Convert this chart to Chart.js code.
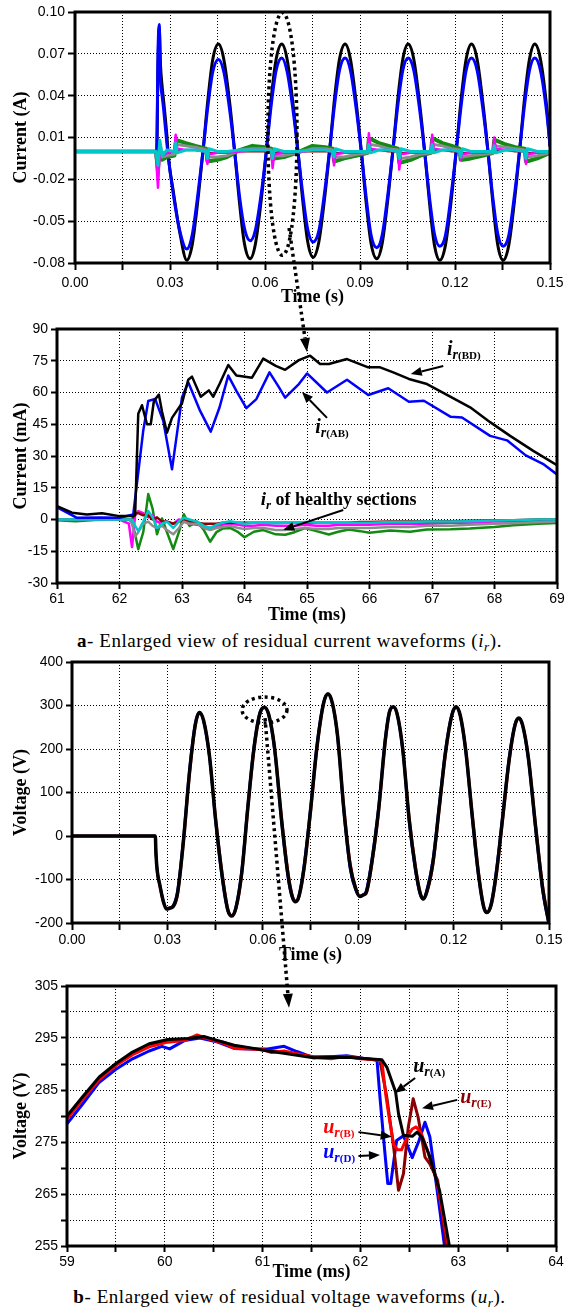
<!DOCTYPE html>
<html>
<head>
<meta charset="utf-8">
<script src="https://cdn.jsdelivr.net/npm/chart.js@4.4.1/dist/chart.umd.min.js"></script>
<style>
html,body{margin:0;padding:0;background:#fff;width:579px;height:1313px;overflow:hidden;position:relative;}
canvas{position:absolute;left:0;}
.cap{position:absolute;left:0;width:579px;text-align:center;font-family:'Liberation Serif','Times New Roman',serif;font-size:19px;line-height:20px;letter-spacing:0.55px;color:#000;white-space:nowrap;}
.cap sub{font-size:70%;vertical-align:-0.3em;line-height:0;}
</style>
</head>
<body>
<canvas id="c1" width="579" height="308" style="top:0px"></canvas>
<canvas id="c2" width="579" height="318" style="top:308px"></canvas>
<div class="cap" style="top:631px"><b>a</b>- Enlarged view of residual current waveforms (<i>i</i><sub><i>r</i></sub>).</div>
<canvas id="c3" width="579" height="318" style="top:648px"></canvas>
<canvas id="c4" width="579" height="317" style="top:966px"></canvas>
<div class="cap" style="top:1287px"><b>b</b>- Enlarged view of residual voltage waveforms (<i>u</i><sub><i>r</i></sub>).</div>
<canvas id="ov" width="579" height="1313" style="top:0px;pointer-events:none"></canvas>
<script>
// ---------------- Panel 1 : residual currents (s, A) ----------------
const t1 = [0, 0.0258, 0.0262, 0.0266, 0.0270, 0.0275, 0.0280, 0.0290, 0.0295, 0.0310, 0.0330, 0.0353,
  0.0370, 0.0390, 0.0405, 0.0420, 0.0435, 0.0453, 0.0470, 0.0490, 0.0505, 0.0520, 0.0535, 0.0553,
  0.0570, 0.0590, 0.0605, 0.0620, 0.0635, 0.0653, 0.0670, 0.0690, 0.0705, 0.0720, 0.0735, 0.0752,
  0.0770, 0.0790, 0.0805, 0.0820, 0.0835, 0.0853, 0.0870, 0.0890, 0.0905, 0.0920, 0.0935, 0.0953,
  0.0970, 0.0990, 0.1005, 0.1020, 0.1035, 0.1052, 0.1070, 0.1090, 0.1105, 0.1120, 0.1135, 0.1152,
  0.1170, 0.1190, 0.1205, 0.1220, 0.1235, 0.1252, 0.1270, 0.1290, 0.1305, 0.1320, 0.1335, 0.1352,
  0.1370, 0.1390, 0.1405, 0.1420, 0.1435, 0.1452, 0.1470, 0.1490, 0.1500];
const iBD1 = [0, 0, 0.060, 0.088, 0.062, 0.047, 0.036, 0.012, -0.004, -0.028, -0.057, -0.078,
  -0.067, -0.031, 0.002, 0.038, 0.066, 0.077, 0.066, 0.032, -0.002, -0.038, -0.066, -0.077,
  -0.066, -0.031, 0.002, 0.039, 0.066, 0.077, 0.066, 0.031, -0.002, -0.037, -0.065, -0.076,
  -0.065, -0.030, 0.003, 0.039, 0.066, 0.077, 0.066, 0.031, -0.002, -0.038, -0.066, -0.077,
  -0.066, -0.030, 0.003, 0.039, 0.066, 0.077, 0.066, 0.031, -0.002, -0.038, -0.067, -0.078,
  -0.067, -0.031, 0.003, 0.039, 0.066, 0.077, 0.066, 0.031, -0.002, -0.038, -0.067, -0.078,
  -0.067, -0.031, 0.003, 0.039, 0.066, 0.077, 0.066, 0.031, 0.004];
const iAB1 = [0, 0, 0.070, 0.091, 0.052, 0.040, 0.030, 0.006, -0.005, -0.030, -0.056, -0.070,
  -0.060, -0.027, 0.002, 0.033, 0.057, 0.066, 0.057, 0.027, -0.002, -0.033, -0.055, -0.064,
  -0.056, -0.027, 0.002, 0.034, 0.058, 0.067, 0.057, 0.027, -0.002, -0.032, -0.056, -0.065,
  -0.057, -0.026, 0.003, 0.034, 0.058, 0.067, 0.058, 0.027, -0.002, -0.034, -0.060, -0.069,
  -0.060, -0.027, 0.003, 0.034, 0.058, 0.067, 0.058, 0.027, -0.002, -0.034, -0.059, -0.068,
  -0.060, -0.027, 0.003, 0.034, 0.058, 0.067, 0.058, 0.027, -0.002, -0.034, -0.059, -0.068,
  -0.060, -0.027, 0.003, 0.034, 0.058, 0.067, 0.058, 0.027, 0.004];
const t1h = [0, 0.0255, 0.0262, 0.0268, 0.0275, 0.0290,
  0.0314, 0.0318, 0.0323, 0.0350, 0.0380,
  0.0414, 0.0418, 0.0423, 0.0450, 0.0480,
  0.0520, 0.0560, 0.0600,
  0.0620, 0.0624, 0.0629, 0.0660, 0.0700,
  0.0750, 0.0790,
  0.0814, 0.0818, 0.0823, 0.0850, 0.0890,
  0.0924, 0.0928, 0.0933, 0.0960, 0.0990,
  0.1020, 0.1024, 0.1029, 0.1060, 0.1090,
  0.1124, 0.1128, 0.1133, 0.1160, 0.1190,
  0.1214, 0.1218, 0.1223, 0.1250, 0.1290,
  0.1320, 0.1324, 0.1329, 0.1360, 0.1390,
  0.1420, 0.1424, 0.1429, 0.1460, 0.1500];
const iGreen1 = [0, 0, -0.012, 0.004, -0.006, -0.004,
  -0.003, 0.006, 0.008, 0.006, 0.004,
  0.002, -0.007, -0.007, -0.006, -0.004,
  0.001, 0.004, 0.003,
  0.002, -0.006, -0.005, -0.004, -0.001,
  0.004, 0.003,
  0.002, -0.007, -0.007, -0.005, -0.003,
  -0.001, 0.009, 0.009, 0.006, 0.004,
  0.002, -0.008, -0.008, -0.006, -0.003,
  -0.001, 0.009, 0.009, 0.006, 0.004,
  0.002, -0.006, -0.006, -0.005, -0.003,
  -0.001, 0.008, 0.008, 0.005, 0.003,
  0.002, -0.007, -0.007, -0.005, -0.001];
const iGray1 = [0, 0, -0.018, 0.003, -0.004, -0.003,
  -0.002, 0.005, 0.005, 0.004, 0.003,
  0.001, -0.004, -0.004, -0.004, -0.003,
  0.001, 0.002, 0.002,
  0.001, -0.004, -0.003, -0.003, -0.001,
  0.002, 0.002,
  0.001, -0.004, -0.004, -0.004, -0.002,
  -0.001, 0.006, 0.005, 0.004, 0.002,
  0.001, -0.005, -0.005, -0.004, -0.002,
  -0.001, 0.006, 0.005, 0.004, 0.002,
  0.001, -0.004, -0.004, -0.003, -0.002,
  -0.001, 0.005, 0.004, 0.003, 0.002,
  0.001, -0.004, -0.004, -0.003, -0.001];
const iMagenta1 = [0, 0, -0.026, 0.002, -0.003, -0.001,
  0, 0.012, 0.002, 0.001, 0.001,
  0, -0.009, -0.002, -0.001, -0.001,
  0, 0.001, 0.001,
  0, -0.012, -0.002, -0.001, -0.001,
  0.001, 0.001,
  0, -0.010, -0.002, -0.001, -0.001,
  0, 0.013, 0.002, 0.001, 0.001,
  0, -0.013, -0.002, -0.001, -0.001,
  0, 0.012, 0.002, 0.001, 0.001,
  0, -0.006, -0.002, -0.001, -0.001,
  0, 0.010, 0.002, 0.001, 0.001,
  0, -0.009, -0.002, -0.001, 0];
const iDarkRed1 = [0, 0, -0.003, 0.001, -0.001, 0,
  0, 0.003, 0.001, 0.001, 0.001,
  0, -0.003, -0.001, -0.001, -0.001,
  0, 0, 0,
  0, -0.003, -0.001, 0, 0,
  0, 0,
  0, -0.002, -0.001, -0.001, 0,
  0, 0.003, 0.001, 0.001, 0,
  0, -0.003, -0.001, -0.001, 0,
  0, 0.003, 0.001, 0.001, 0,
  0, -0.002, -0.001, -0.001, 0,
  0, 0.002, 0.001, 0.001, 0,
  0, -0.002, -0.001, -0.001, 0];
const iCyan1 = [0, 0, -0.010, 0.008, -0.003, 0.001,
  0, 0.006, -0.001, 0.001, 0.001,
  0, -0.005, 0.002, 0, 0,
  0.001, 0.001, 0.001,
  0, -0.005, 0.002, 0, 0,
  0.001, 0.001,
  0, -0.004, 0.002, 0, 0,
  0, 0.005, -0.001, 0.001, 0.001,
  0, -0.005, 0.002, 0, 0,
  0, 0.005, -0.001, 0.001, 0.001,
  0, -0.004, 0.002, 0, 0,
  0, 0.004, -0.001, 0.001, 0.001,
  0, -0.005, 0.002, 0, 0];

// ---------------- Panel 2 : enlarged residual currents (ms, mA) ----------------
const tBD2 = [61, 61.24, 61.48, 61.72, 62.0, 62.2, 62.25, 62.3, 62.36, 62.44, 62.5, 62.55, 62.63, 62.68, 62.76, 62.84,
  63.0, 63.1, 63.16, 63.3, 63.43, 63.5, 63.6, 63.74, 63.87, 64.12, 64.3, 64.5, 64.65, 64.87, 65.05, 65.21, 65.35,
  65.64, 65.98, 66.17, 66.38, 66.63, 66.92, 67.24, 67.61, 67.93, 68.25, 68.62, 69];
const iBD2 = [6.3, 3.2, 2.4, 3.0, 1.6, 1.6, 2.0, 50, 54, 45, 45, 56, 59, 51, 41, 48,
  55, 66, 67.5, 58, 61, 58, 64, 73, 68, 67, 76, 72.6, 70.7, 75.3, 77.4, 73.5, 73.5,
  75.8, 71.9, 71.9, 69.5, 66.4, 64, 58.9, 53, 46, 39.5, 32.4, 25.7];
const tAB2 = [61, 61.32, 61.69, 62.0, 62.22, 62.38, 62.46, 62.57, 62.7, 62.84, 63.0, 63.1, 63.29, 63.46, 63.6,
  63.74, 63.87, 64.03, 64.19, 64.4, 64.54, 64.65, 64.87, 65.0, 65.32, 65.64, 65.98, 66.3, 66.63, 66.87,
  67.3, 67.48, 67.93, 68.2, 68.5, 68.79, 69];
const iAB2 = [5.8, 0.8, 1.0, 0.8, 2.4, 42, 56, 57, 46.6, 23.7, 57.7, 64.8, 51.3, 41.5, 52.9,
  68, 60.8, 52.6, 56.9, 69.5, 63, 57.6, 64, 69, 60, 66, 58.8, 62, 55.6, 56.1,
  48.5, 48.2, 39.5, 37.4, 30.3, 26, 21.3];
const t2h = [61, 61.3, 61.6, 62.0, 62.15, 62.2, 62.25, 62.3, 62.38, 62.46, 62.53, 62.6, 62.68, 62.76, 62.86,
  62.95, 63.03, 63.12, 63.24, 63.35, 63.45, 63.55, 63.65, 63.77, 63.9, 64.0, 64.15, 64.3, 64.5, 64.65,
  64.8, 64.97, 65.15, 65.35, 65.5, 65.67, 65.85, 66.0, 66.33, 66.65, 66.92, 67.3, 67.6, 68.0, 68.3, 68.7, 69];
const iGreen2 = [-0.3, -0.8, -0.2, 0, 0, -1, -7, -14, -6, 12, 5, -7, 0.5, -6, -14,
  -6, 2.5, -3, -1, -5, -10.5, -6, -4.3, -4, -6, -8.4, -5.8, -5, -7, -7.2,
  -6, -4, -5.5, -7.1, -5.8, -4.7, -5.5, -6.3, -5.2, -5.8, -4.7, -4.6, -4.3, -3.5, -2.7, -2, -1.6];
const iMagenta2 = [0, 0, 0, 0, -2, -13, 2, 4, 3, 1, 2, -1, -2, -1, -2,
  0, -1, -2, -2.5, -3, -4, -3, -2.5, -2, -2.5, -3, -3, -2.5, -3, -3,
  -3, -2.5, -3, -3, -2.5, -2.5, -2.5, -2.5, -2, -2, -2, -1.5, -1.5, -1, -1, -0.5, -0.5];
const iGray2 = [0, 0, 0, 0, 0, -2, -8, -6, -2, -1, -3, -4, -3, -5, -7,
  -4, -1, -2, -2, -4, -5, -4, -3.5, -3, -4, -4.5, -4, -4, -5, -5,
  -4.5, -4, -4.5, -4.5, -4, -4, -4, -4, -3.5, -3.5, -3, -3, -2.5, -2, -1.8, -1.3, -1];
const iDarkRed2 = [0, 0, 0, 0, 0, 0, 3, 3, 2, 2, 0, 1, -1, -1, -2,
  -1, 0, -1, -1.5, -2, -2, -2, -1.5, -1.5, -1.5, -1.5, -1.5, -1.5, -1.5, -1.5,
  -1.5, -1.5, -1.5, -1.5, -1.5, -1.5, -1.2, -1.2, -1, -1, -1, -0.8, -0.6, -0.4, -0.3, 0, 0];
const iCyan2 = [0, 0, 0, 0, 0, 0, -3, -5.5, -1, 4, 1, -4, -2, -1, -4,
  -1, 0.8, 0, -1, -3, -4, -2.5, -1.5, -0.8, -1.5, -2, -1.5, -1.5, -1.8, -1.5,
  -1.5, -1.2, -1.5, -1.5, -1.5, -1.5, -1.5, -1.5, -1.2, -1.2, -1, -1, -0.8, -0.5, -0.3, 0, 0];

// ---------------- Panel 3 : residual voltages (s, V) ----------------
const t3 = [0, 0.0262, 0.0264, 0.0268, 0.0276, 0.0287, 0.0297, 0.0307, 0.0318, 0.0332,
  0.0350, 0.0370, 0.0388, 0.0401, 0.0414, 0.0432, 0.0452, 0.0472, 0.0490, 0.0503,
  0.0516, 0.0534, 0.0553, 0.0572, 0.0591, 0.0605, 0.0619, 0.0637, 0.0660, 0.0680,
  0.0693, 0.0703, 0.0714, 0.0730, 0.0750, 0.0770, 0.0791, 0.0805, 0.0819, 0.0835,
  0.0855, 0.0875, 0.0893, 0.0905, 0.0915, 0.0925, 0.0945, 0.0965, 0.0985, 0.0998,
  0.1010, 0.1022, 0.1040, 0.1060, 0.1080, 0.1095, 0.1105, 0.1115, 0.1135, 0.1155,
  0.1175, 0.1195, 0.1208, 0.1221, 0.1238, 0.1258, 0.1278, 0.1295, 0.1305, 0.1318,
  0.1335, 0.1355, 0.1375, 0.1393, 0.1405, 0.1417, 0.1435, 0.1458, 0.1480, 0.1500];
const uA3 = [0, 0, -40, -80, -112, -150, -168, -166, -162, -131,
  -15, 150, 257, 284, 265, 186, 35, -90, -170, -184,
  -164, -83, 66, 200, 282, 296, 278, 202, 30, -93,
  -140, -151, -138, -72, 58, 203, 305, 327, 305, 231,
  60, -70, -123, -139, -136, -130, -50, 66, 219, 284,
  297, 282, 200, 40, -74, -132, -145, -130, -61, 67,
  195, 279, 297, 277, 198, 51, -86, -164, -176, -158,
  -82, 47, 177, 255, 271, 255, 180, 20, -120, -202];
const uB3 = [0, 0, -38, -82, -115, -152, -166, -165, -163, -136,
  -22, 142, 252, 283, 266, 190, 42, -82, -166, -183,
  -167, -90, 58, 193, 279, 295, 279, 207, 38, -85,
  -136, -150, -140, -78, 50, 196, 301, 326, 306, 236,
  68, -62, -120, -138, -136, -133, -57, 58, 212, 281,
  296, 283, 205, 48, -67, -129, -144, -133, -68, 59,
  188, 276, 296, 278, 203, 59, -79, -161, -175, -161,
  -89, 39, 170, 251, 270, 256, 185, 28, -112, -198];
const uD3 = [0, 0, -42, -78, -110, -148, -167, -165, -160, -124,
  -6, 158, 262, 285, 263, 181, 28, -98, -173, -184,
  -160, -76, 74, 207, 285, 296, 276, 196, 22, -100,
  -143, -151, -135, -64, 66, 210, 308, 326, 303, 226,
  52, -78, -126, -139, -135, -126, -42, 74, 226, 287,
  296, 280, 195, 32, -81, -135, -145, -126, -53, 75,
  202, 282, 297, 275, 193, 43, -93, -166, -176, -154,
  -74, 55, 184, 258, 270, 253, 175, 12, -128, -206];

// ---------------- Panel 4 : enlarged residual voltages (ms, V) ----------------
const tA4 = [59, 59.16, 59.33, 59.5, 59.67, 59.84, 60.03, 60.24, 60.4, 60.54, 60.71, 60.88, 61.05, 61.2,
  61.52, 61.86, 62.22, 62.27, 62.36, 62.39, 62.44, 62.53, 62.58, 62.63, 62.7, 62.81, 62.91, 62.95];
const uA4 = [280.0, 283.7, 287.5, 290.1, 292.3, 293.9, 294.7, 294.9, 295.3, 294.5, 293.6, 293.1, 292.5, 292.1,
  291.2, 291.3, 290.8, 289.4, 284.6, 280.4, 276.3, 276.1, 276.9, 275.9, 272.7, 265.6, 255, 252];
const tB4 = [59, 59.16, 59.33, 59.5, 59.67, 59.84, 60.03, 60.2, 60.33, 60.45, 60.6, 60.71, 60.88, 61.0, 61.09,
  61.22, 61.52, 61.7, 61.86, 62.0, 62.17, 62.22, 62.26, 62.3, 62.34, 62.38, 62.42, 62.48, 62.53, 62.57,
  62.62, 62.68, 62.78, 62.9, 62.95];
const uB4 = [279.4, 283.2, 287.0, 289.7, 291.8, 293.3, 294.2, 294.5, 295.6, 294.8, 294.0, 293.0, 292.9, 292.8, 292.2,
  292.5, 291.3, 291.0, 291.5, 291.0, 290.8, 290.5, 284, 279, 274.5, 273.5, 273.5, 276, 277.5, 277.9,
  276.8, 273.7, 267.6, 255, 251];
const tD4 = [59, 59.16, 59.33, 59.5, 59.67, 59.84, 59.97, 60.05, 60.2, 60.36, 60.54, 60.71, 60.88, 61.05, 61.22,
  61.35, 61.52, 61.86, 62.17, 62.2, 62.25, 62.28, 62.31, 62.37, 62.44, 62.53, 62.6, 62.66, 62.71, 62.79,
  62.86, 62.9];
const uD4 = [278.5, 282.3, 286.5, 289.0, 291.0, 292.5, 293.4, 292.9, 294.5, 295.0, 294.2, 293.0, 292.9, 292.9, 293.4,
  292.4, 291.2, 291.6, 290.7, 283.6, 273, 267, 267, 275.3, 276.2, 272, 275.3, 278.8, 276, 265,
  255, 251];
const tE4 = [59, 59.16, 59.33, 59.5, 59.67, 59.84, 60.03, 60.2, 60.33, 60.45, 60.6, 60.71, 60.88, 61.05, 61.22,
  61.52, 61.86, 62.2, 62.27, 62.34, 62.39, 62.44, 62.49, 62.54, 62.59, 62.66, 62.71, 62.79, 62.88, 62.92];
const uE4 = [279.6, 283.4, 287.2, 289.9, 292.0, 293.5, 294.4, 294.7, 295.3, 294.9, 294.2, 293.4, 293.0, 292.6, 292.3,
  291.4, 291.4, 290.7, 283.6, 274, 265.7, 268.9, 277.9, 283.3, 279.8, 272.1, 270.8, 267.6, 255, 251];

// ---------------- helpers ----------------
const SANS = "'Liberation Sans', Arial, sans-serif";
const SERIF = "'Liberation Serif', 'Times New Roman', serif";
const C = { black: '#000000', blue: '#0000ff', green: '#138a13', gray: '#8c8c8c', magenta: '#ff00ff',
  darkred: '#8b0000', cyan: '#00c8c8', red: '#ff0000' };

function series(xs, ys, color, width, smooth) {
  return {
    data: xs.map((x, i) => ({ x: x, y: ys[i] })),
    borderColor: color, backgroundColor: color, borderWidth: width,
    pointRadius: 0, fill: false, tension: 0,
    cubicInterpolationMode: smooth ? 'monotone' : 'default',
    borderJoinStyle: 'round', borderCapStyle: 'round'
  };
}

const boxPlugin = {
  id: 'box',
  afterDraw(chart) {
    const a = chart.chartArea, ctx = chart.ctx;
    ctx.save();
    ctx.lineWidth = 3; ctx.strokeStyle = '#000';
    ctx.strokeRect(a.left, a.top, a.right - a.left, a.bottom - a.top);
    ctx.restore();
  }
};

function drawArrow(ctx, x1, y1, x2, y2, color, lw, hl, hw) {
  const ang = Math.atan2(y2 - y1, x2 - x1);
  const bx = x2 - hl * Math.cos(ang), by = y2 - hl * Math.sin(ang);
  ctx.save();
  ctx.strokeStyle = color; ctx.fillStyle = color; ctx.lineWidth = lw; ctx.setLineDash([]);
  ctx.beginPath(); ctx.moveTo(x1, y1); ctx.lineTo(bx, by); ctx.stroke();
  ctx.beginPath();
  ctx.moveTo(x2, y2);
  ctx.lineTo(bx + hw * Math.sin(ang), by - hw * Math.cos(ang));
  ctx.lineTo(bx - hw * Math.sin(ang), by + hw * Math.cos(ang));
  ctx.closePath(); ctx.fill();
  ctx.restore();
}

function drawParts(ctx, x, y, parts, color) {
  ctx.save();
  ctx.fillStyle = color; ctx.textBaseline = 'alphabetic'; ctx.textAlign = 'left';
  let cx = x;
  parts.forEach(p => {
    ctx.font = p.f;
    ctx.fillText(p.t, cx, y + (p.dy || 0));
    cx += ctx.measureText(p.t).width + (p.gap || 0);
  });
  ctx.restore();
}

function subLabel(main, sub, paren, mainSize) {
  const parts = [
    { t: main, f: `italic bold ${mainSize}px ${SERIF}`, dy: 0, gap: 0 },
    { t: sub, f: `italic bold 14px ${SERIF}`, dy: 4 }
  ];
  if (paren) parts.push({ t: paren, f: `bold 11px ${SERIF}`, dy: 4 });
  return parts;
}

function annotPlugin(items) {
  return {
    id: 'annot',
    afterDraw(chart) {
      const ctx = chart.ctx, xs = chart.scales.x, ys = chart.scales.y;
      items.forEach(it => {
        if (it.type === 'arrow') {
          drawArrow(ctx, xs.getPixelForValue(it.x1), ys.getPixelForValue(it.y1),
            xs.getPixelForValue(it.x2), ys.getPixelForValue(it.y2), it.color || '#000', 2, 11, 4.5);
        } else {
          drawParts(ctx, xs.getPixelForValue(it.x), ys.getPixelForValue(it.y), it.parts, it.color || '#000');
        }
      });
    }
  };
}

function axis(o, horizontal) {
  return {
    type: 'linear', min: o.min, max: o.max,
    afterFit: s => { if (horizontal) s.height = o.size; else s.width = o.size; },
    ticks: {
      stepSize: o.step, autoSkip: false, maxRotation: 0, minRotation: 0,
      padding: o.pad, color: '#000', font: { family: SANS, size: 14 },
      callback: o.cb
    },
    grid: { color: '#000', lineWidth: 1, drawTicks: true, tickLength: o.tickLen, tickWidth: 2,
      tickColor: '#000', tickBorderDash: [] },
    border: { display: false, dash: [1, 2] },
    title: { display: true, text: o.title, color: '#000',
      font: { family: SERIF, size: 18, weight: 'bold' },
      padding: horizontal ? { top: 0, bottom: 0 } : { top: 11, bottom: 0 } }
  };
}

function makeChart(id, datasets, cfg, items) {
  return new Chart(document.getElementById(id), {
    type: 'line',
    data: { datasets: datasets },
    options: {
      responsive: false, animation: false, events: [],
      layout: { padding: { left: 0, top: cfg.padTop, right: cfg.padRight, bottom: 0 } },
      plugins: { legend: { display: false }, tooltip: { enabled: false } },
      scales: { x: axis(cfg.x, true), y: axis(cfg.y, false) }
    },
    plugins: [boxPlugin, annotPlugin(items || [])]
  });
}

const every2 = f => (v, i) => (i % 2 === 0 ? f(v) : '');

// ---------------- Chart 1 ----------------
const ch1 = makeChart('c1', [
  series(t1h, iCyan1, C.cyan, 3, false),
  series(t1h, iMagenta1, C.magenta, 2.5, false),
  series(t1h, iGray1, C.gray, 3, false),
  series(t1h, iGreen1, C.green, 4, false),
  series(t1h, iDarkRed1, C.darkred, 2, false),
  series(t1, iAB1, C.blue, 3, true),
  series(t1, iBD1, C.black, 3, true)
], {
  padTop: 12, padRight: 29,
  x: { min: 0, max: 0.15, step: 0.015, cb: every2(v => v.toFixed(2)), size: 45, tickLen: 7, pad: 5, title: 'Time (s)' },
  y: { min: -0.08, max: 0.10, step: 0.03, cb: v => v.toFixed(2), size: 75, tickLen: 7, pad: 3, title: 'Current (A)' }
});

// ---------------- Chart 2 ----------------
const ch2 = makeChart('c2', [
  series(tBD2, iBD2, C.black, 2.5, false),
  series(tAB2, iAB2, C.blue, 2.5, false),
  series(t2h, iCyan2, C.cyan, 2.5, false),
  series(t2h, iGray2, C.gray, 2.5, false),
  series(t2h, iDarkRed2, C.darkred, 2.5, false),
  series(t2h, iMagenta2, C.magenta, 2.5, false),
  series(t2h, iGreen2, C.green, 2.5, false)
], {
  padTop: 21, padRight: 22,
  x: { min: 61, max: 69, step: 1, cb: v => String(v), size: 43, tickLen: 6, pad: 1.6, title: 'Time (ms)' },
  y: { min: -30, max: 90, step: 15, cb: v => String(v), size: 57, tickLen: 6, pad: 3, title: 'Current (mA)' }
}, [
  { type: 'text', x: 67.24, y: 77.7, parts: subLabel('i', 'r', '(BD)', 20) },
  { type: 'arrow', x1: 67.18, y1: 72.5, x2: 66.66, y2: 68.7 },
  { type: 'text', x: 65.13, y: 40.9, parts: subLabel('i', 'r', '(AB)', 20) },
  { type: 'arrow', x1: 65.32, y1: 48, x2: 64.92, y2: 60.2 },
  { type: 'text', x: 64.26, y: 6.9, parts: [
    { t: 'i', f: `italic bold 19px ${SERIF}` },
    { t: 'r', f: `italic bold 13px ${SERIF}`, dy: 4 },
    { t: ' of healthy sections', f: `bold 18px ${SERIF}` }
  ] },
  { type: 'arrow', x1: 65.58, y1: 4.5, x2: 64.62, y2: -4.9 }
]);

// ---------------- Chart 3 ----------------
const ch3 = makeChart('c3', [
  series(t3, uA3, C.black, 3.5, true),
  series(t3, uB3, C.red, 2.5, true),
  series(t3, uD3, C.blue, 2.5, true)
], {
  padTop: 14, padRight: 30,
  x: { min: 0, max: 0.15, step: 0.015, cb: every2(v => v.toFixed(2)), size: 43, tickLen: 7, pad: 1.6, title: 'Time (s)' },
  y: { min: -200, max: 400, step: 100, cb: v => String(v), size: 72, tickLen: 6, pad: 3, title: 'Voltage (V)' }
});

// ---------------- Chart 4 ----------------
const ch4 = makeChart('c4', [
  series(tA4, uA4, C.black, 3, false),
  series(tB4, uB4, C.red, 3, false),
  series(tE4, uE4, C.darkred, 3, false),
  series(tD4, uD4, C.blue, 3, false)
], {
  padTop: 20, padRight: 23,
  x: { min: 59, max: 64, step: 0.5, cb: every2(v => String(v)), size: 37, tickLen: 6, pad: 1.6, title: 'Time (ms)' },
  y: { min: 255, max: 305, step: 5, cb: every2(v => String(v)), size: 67, tickLen: 6, pad: 3, title: 'Voltage (V)' }
}, [
  { type: 'text', x: 62.54, y: 288.5, parts: subLabel('u', 'r', '(A)', 20) },
  { type: 'arrow', x1: 62.56, y1: 287.3, x2: 62.35, y2: 284.4 },
  { type: 'text', x: 63.02, y: 282.5, color: C.darkred, parts: subLabel('u', 'r', '(E)', 20) },
  { type: 'arrow', x1: 62.99, y1: 283.1, x2: 62.63, y2: 281.5 },
  { type: 'text', x: 61.62, y: 276.7, color: C.red, parts: subLabel('u', 'r', '(B)', 20) },
  { type: 'arrow', x1: 61.98, y1: 276.9, x2: 62.32, y2: 276.0 },
  { type: 'text', x: 61.62, y: 271.9, color: C.blue, parts: subLabel('u', 'r', '(D)', 20) },
  { type: 'arrow', x1: 61.98, y1: 272.3, x2: 62.2, y2: 272.5 }
]);

// ---------------- dotted zoom markers (overlay) ----------------
(function () {
  const ov = document.getElementById('ov').getContext('2d');
  const P = (ch, top, x, y) => [ch.scales.x.getPixelForValue(x), top + ch.scales.y.getPixelForValue(y)];
  function dottedEllipse(ch, top, x0, x1, y0, y1) {
    const a = P(ch, top, x0, y0), b = P(ch, top, x1, y1);
    ov.save();
    ov.lineWidth = 3.5; ov.setLineDash([3, 3.5]); ov.strokeStyle = '#000';
    ov.beginPath();
    ov.ellipse((a[0] + b[0]) / 2, (a[1] + b[1]) / 2, Math.abs(b[0] - a[0]) / 2, Math.abs(b[1] - a[1]) / 2, 0, 0, Math.PI * 2);
    ov.stroke();
    ov.restore();
  }
  function dottedArrow(p1, p2) {
    const ang = Math.atan2(p2[1] - p1[1], p2[0] - p1[0]);
    const hl = 14, hw = 5;
    const bx = p2[0] - hl * Math.cos(ang), by = p2[1] - hl * Math.sin(ang);
    ov.save();
    ov.lineWidth = 3.5; ov.setLineDash([3, 3.5]); ov.strokeStyle = '#000'; ov.fillStyle = '#000';
    ov.beginPath(); ov.moveTo(p1[0], p1[1]); ov.lineTo(bx, by); ov.stroke();
    ov.setLineDash([]);
    ov.beginPath();
    ov.moveTo(p2[0], p2[1]);
    ov.lineTo(bx + hw * Math.sin(ang), by - hw * Math.cos(ang));
    ov.lineTo(bx - hw * Math.sin(ang), by + hw * Math.cos(ang));
    ov.closePath(); ov.fill();
    ov.restore();
  }
  dottedEllipse(ch1, 0, 0.0609, 0.0701, 0.0995, -0.0745);
  dottedArrow(P(ch1, 0, 0.0676, -0.0549), P(ch2, 308, 65.0, 79.1));
  dottedEllipse(ch3, 648, 0.0535, 0.0676, 319.5, 259.8);
  dottedArrow(P(ch3, 648, 0.0607, 271), P(ch4, 966, 61.27, 300.8));
})();
</script>
</body>
</html>
